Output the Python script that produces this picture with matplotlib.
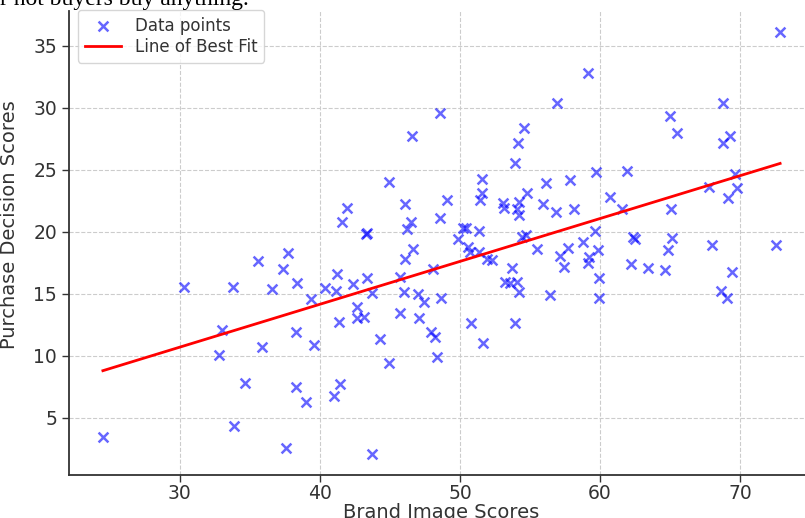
import numpy as np
import matplotlib
matplotlib.use("Agg")
import matplotlib.pyplot as plt

brand_image = [
    24.5, 30.26, 32.98, 32.81, 33.76, 33.88, 34.67, 35.55, 35.88, 36.59,
    37.38, 37.69, 37.55, 38.38, 38.29, 38.29, 39.0, 39.36, 39.57, 40.33,
    41.14, 41.19, 41.0, 41.43, 41.38, 41.55, 41.93, 42.38, 42.62, 42.65,
    43.12, 43.29, 43.35, 43.33, 43.7, 43.74, 44.29, 44.95, 44.95, 45.72,
    46.0, 45.71, 46.07, 46.07, 46.19, 46.48, 46.55, 46.62, 46.97, 47.43,
    47.07, 47.96, 48.2, 48.1, 48.33, 48.62, 48.55, 48.57, 49.05, 49.83,
    50.24, 50.45, 50.6, 50.75, 50.76, 51.33, 51.38, 51.4, 51.6, 51.55,
    51.67, 51.9, 52.26, 53.1, 53.15, 53.21, 53.57, 53.69, 53.93, 53.93,
    54.05, 54.14, 54.6, 54.2, 54.1, 54.2, 54.24, 54.45, 54.7, 54.76,
    55.48, 55.9, 56.14, 56.43, 56.88, 56.9, 57.14, 57.43, 57.74, 57.85,
    58.14, 58.81, 59.17, 59.24, 59.17, 59.64, 59.69, 59.83, 59.93, 59.93,
    60.71, 61.55, 61.95, 62.21, 62.38, 62.5, 63.45, 64.67, 64.85, 65.05,
    65.12, 65.0, 65.48, 67.81, 68.02, 68.64, 68.81, 68.81, 69.05, 69.17,
    69.29, 69.4, 69.64, 69.76, 72.57, 72.86,
]
purchase_decision = [
    3.5, 15.59, 12.10, 10.08, 15.54, 4.35, 7.85, 17.66, 10.75, 15.40,
    16.99, 18.28, 2.56, 15.91, 11.96, 7.47, 6.32, 14.60, 10.89, 15.52,
    15.22, 16.59, 6.80, 7.74, 12.74, 20.78, 21.91, 15.83, 13.95, 13.04,
    13.17, 19.81, 19.95, 16.27, 15.06, 2.07, 11.4, 24.06, 9.46, 16.4,
    15.2, 13.44, 17.8, 22.26, 20.24, 20.78, 27.74, 18.6, 15.03, 14.38,
    13.07, 11.92, 11.5, 17.0, 9.90, 14.7, 21.10, 29.57, 22.58, 19.44,
    20.35, 20.35, 18.8, 18.35, 12.63, 18.4, 20.1, 22.6, 23.12, 24.3,
    11.08, 17.8, 17.76, 22.33, 21.9, 15.99, 15.86, 17.1, 25.54, 12.69,
    15.94, 27.18, 28.41, 22.4, 21.83, 21.34, 15.19, 19.62, 19.78, 23.12,
    18.65, 22.28, 23.93, 14.92, 21.6, 30.43, 18.04, 17.2, 18.68, 24.17,
    21.83, 19.2, 32.80, 17.95, 17.5, 20.06, 24.81, 18.55, 16.32, 14.65,
    22.80, 21.85, 24.95, 17.42, 19.62, 19.45, 17.07, 16.94, 18.55, 21.85,
    19.5, 29.35, 28.01, 23.6, 18.95, 15.27, 30.43, 27.20, 14.70, 22.77,
    27.77, 16.80, 24.68, 23.52, 18.95, 36.12,
]
x_ticks = [30, 40, 50, 60, 70]
y_ticks = [5, 10, 15, 20, 25, 30, 35]

x = np.array(brand_image)
y = np.array(purchase_decision)
slope, intercept = np.polyfit(x, y, 1)
xs = np.array([x.min(), x.max()])

W, H = 805, 518
fig = plt.figure(figsize=(W / 100, H / 100), dpi=100)
ax = fig.add_axes([69 / W, (H - 475.4) / H, 745 / W, 464.4 / H])

ax.scatter(x, y, marker='x', s=50, color='blue', alpha=0.6, linewidths=1.8,
           label='Data points', zorder=3)
ax.plot(xs, slope * xs + intercept, color='red', lw=2, label='Line of Best Fit',
        zorder=4)

ax.set_xlim(22.08, 75.28)
ax.set_ylim(0.37, 37.82)
ax.set_xticks(x_ticks)
ax.set_yticks(y_ticks)
ax.grid(True, linestyle='--', color='#cccccc', lw=0.8)
ax.set_axisbelow(True)
for s in ['top', 'right']:
    ax.spines[s].set_visible(False)
for s in ['left', 'bottom']:
    ax.spines[s].set_color('#333333')
    ax.spines[s].set_linewidth(1.3)
ax.tick_params(labelsize=13.5, colors='#333333', length=5, width=1)
ax.tick_params(axis='x', pad=1.5)
ax.set_xlabel('Brand Image Scores', fontsize=14, color='#333333', labelpad=0)
ax.set_ylabel('Purchase Decision Scores', fontsize=14, color='#333333')
ax.yaxis.set_label_coords(-50 / 745, (475.4 - 225) / 464.4)
leg = ax.legend(loc='upper left', fontsize=12, framealpha=0.8, edgecolor='#cccccc',
                bbox_to_anchor=(9 / 745, 1 + 1 / 464.4), borderaxespad=0,
                labelspacing=0.2, handlelength=2.2)
for t in leg.get_texts():
    t.set_color('#333333')

fig.text(0.0, 1 - 5 / H, 'r not buyers buy anything.', fontsize=17,
         family='Liberation Serif', color='black', va='baseline', ha='left')

fig.savefig('out.png', dpi=100)
